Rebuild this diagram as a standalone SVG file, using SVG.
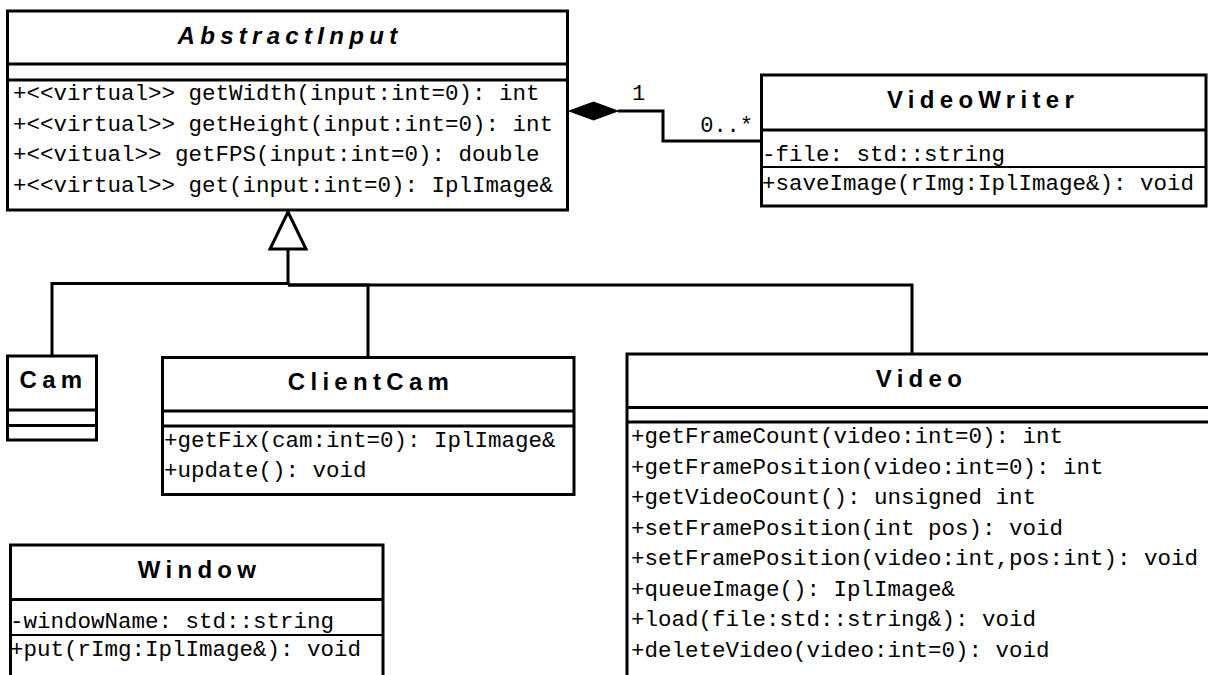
<svg xmlns="http://www.w3.org/2000/svg" width="1208" height="675" viewBox="0 0 1208 675">
  <style>
    .box { fill: #ffffff; stroke: #000000; stroke-width: 3; }
    .sep { stroke: #000000; stroke-width: 3; fill: none; }
    .sep-thin { stroke: #000000; stroke-width: 2; fill: none; }
    .title { font-family: "Liberation Sans", Arial, sans-serif; font-weight: bold; font-size: 24px; letter-spacing: 5.3px; text-anchor: middle; fill: #000000; }
    .abstract { font-style: italic; }
    .member { font-family: "Liberation Mono", "Courier New", monospace; font-size: 22.5px; fill: #000000; }
    .edge { stroke: #000000; stroke-width: 3; fill: none; }
    .mult { font-family: "Liberation Mono", "Courier New", monospace; font-size: 22px; fill: #000000; }
  </style>
  <rect width="1208" height="675" fill="#ffffff"/>

  <!-- connectors -->
  <g id="connectors">
    <!-- generalization: Cam, ClientCam and Video derive from AbstractInput -->
    <path class="edge" d="M52,356 V283.5 H289.5"/>
    <path class="edge" d="M368,357.5 V285 H288"/>
    <path class="edge" d="M912,354 V285 H288"/>
    <path class="edge" d="M288,249 V285"/>
    <polygon points="288,212 306,249 270,249" fill="#ffffff" stroke="#000000" stroke-width="3" stroke-linejoin="miter"/>
    <!-- composition: AbstractInput owns VideoWriter -->
    <path class="edge" d="M618,111 H663 V141 H761.5"/>
    <polygon points="569,111 593.5,102 618,111 593.5,120" fill="#000000" stroke="#000000" stroke-width="1"/>
    <text class="mult" x="632" y="100">1</text>
    <text class="mult" x="753" y="132" text-anchor="end">0..*</text>
  </g>

  <!-- AbstractInput -->
  <g id="AbstractInput">
    <rect class="box" x="7.5" y="11" width="560" height="199"/>
    <line class="sep" x1="7.5" y1="64" x2="567.5" y2="64"/>
    <line class="sep" x1="7.5" y1="80" x2="567.5" y2="80"/>
    <text class="title abstract" x="290" y="44">AbstractInput</text>
    <text class="member" x="13" y="100">+&lt;&lt;virtual&gt;&gt; getWidth(input:int=0): int</text>
    <text class="member" x="13" y="130.5">+&lt;&lt;virtual&gt;&gt; getHeight(input:int=0): int</text>
    <text class="member" x="13" y="161">+&lt;&lt;vitual&gt;&gt; getFPS(input:int=0): double</text>
    <text class="member" x="13" y="191.5">+&lt;&lt;virtual&gt;&gt; get(input:int=0): IplImage&amp;</text>
  </g>

  <!-- VideoWriter -->
  <g id="VideoWriter">
    <rect class="box" x="761.5" y="75" width="444.5" height="131"/>
    <line class="sep" x1="761.5" y1="130" x2="1206" y2="130"/>
    <line class="sep-thin" x1="761.5" y1="167" x2="1206" y2="167"/>
    <text class="title" x="983" y="108">VideoWriter</text>
    <text class="member" x="762" y="161">-file: std::string</text>
    <text class="member" x="762" y="190">+saveImage(rImg:IplImage&amp;): void</text>
  </g>

  <!-- Cam -->
  <g id="Cam">
    <rect class="box" x="7.5" y="356" width="89" height="84"/>
    <line class="sep" x1="7.5" y1="410" x2="96.5" y2="410"/>
    <line class="sep" x1="7.5" y1="425.5" x2="96.5" y2="425.5"/>
    <text class="title" x="53.5" y="388">Cam</text>
  </g>

  <!-- ClientCam -->
  <g id="ClientCam">
    <rect class="box" x="162.5" y="357.5" width="411.5" height="137"/>
    <line class="sep" x1="162.5" y1="411" x2="574" y2="411"/>
    <line class="sep" x1="162.5" y1="426" x2="574" y2="426"/>
    <text class="title" x="371" y="390">ClientCam</text>
    <text class="member" x="164" y="447">+getFix(cam:int=0): IplImage&amp;</text>
    <text class="member" x="164" y="477">+update(): void</text>
  </g>

  <!-- Video -->
  <g id="Video">
    <rect class="box" x="627" y="354" width="600" height="400"/>
    <line class="sep" x1="627" y1="407.5" x2="1227" y2="407.5"/>
    <line class="sep" x1="627" y1="422" x2="1227" y2="422"/>
    <text class="title" x="921.5" y="387">Video</text>
    <text class="member" x="631" y="443">+getFrameCount(video:int=0): int</text>
    <text class="member" x="631" y="473.5">+getFramePosition(video:int=0): int</text>
    <text class="member" x="631" y="504">+getVideoCount(): unsigned int</text>
    <text class="member" x="631" y="534.5">+setFramePosition(int pos): void</text>
    <text class="member" x="631" y="565">+setFramePosition(video:int,pos:int): void</text>
    <text class="member" x="631" y="595.5">+queueImage(): IplImage&amp;</text>
    <text class="member" x="631" y="626">+load(file:std::string&amp;): void</text>
    <text class="member" x="631" y="656.5">+deleteVideo(video:int=0): void</text>
  </g>

  <!-- Window -->
  <g id="Window">
    <rect class="box" x="10.5" y="545" width="372.5" height="200"/>
    <line class="sep" x1="10.5" y1="599.5" x2="383" y2="599.5"/>
    <line class="sep-thin" x1="10.5" y1="635" x2="383" y2="635"/>
    <text class="title" x="199.5" y="578">Window</text>
    <text class="member" x="10" y="628">-windowName: std::string</text>
    <text class="member" x="10" y="656">+put(rImg:IplImage&amp;): void</text>
  </g>
</svg>
